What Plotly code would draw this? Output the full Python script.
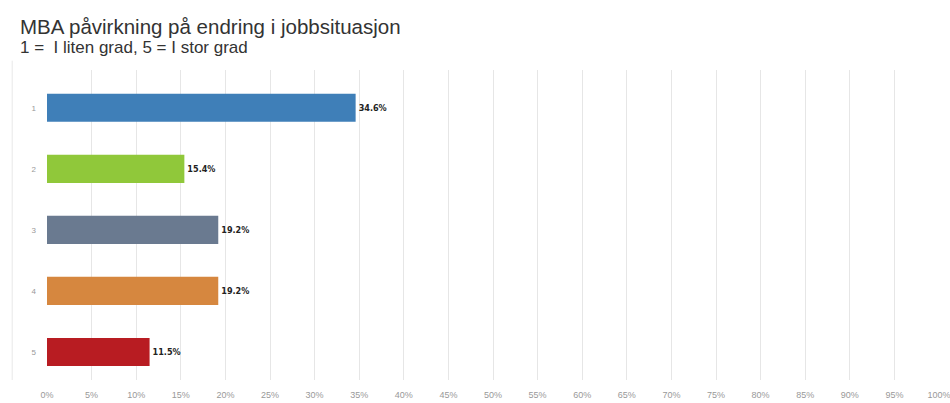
import plotly.graph_objects as go

categories = ["1", "2", "3", "4", "5"]
values = [34.6, 15.4, 19.2, 19.2, 11.5]
labels = ["34.6%", "15.4%", "19.2%", "19.2%", "11.5%"]
colors = ["#3f7fb8", "#90c83a", "#6a7a90", "#d6873f", "#b81c22"]
tick_vals = list(range(0, 101, 5))
tick_text = [f"{v}%" for v in tick_vals]

fig = go.Figure(go.Bar(
    x=values, y=categories, orientation="h",
    marker=dict(color=colors, line=dict(width=0)),
    width=0.46,
    text=[f"<b>{t}</b>" for t in labels], textposition="outside", cliponaxis=False,
    textfont=dict(family="DejaVu Sans Condensed", size=9, color="#222222"),
))

fig.update_layout(
    width=950, height=403,
    margin=dict(l=47, r=11, t=70, b=23, autoexpand=False),
    paper_bgcolor="white", plot_bgcolor="white",
    showlegend=False,
    font=dict(family="Liberation Sans"),
    annotations=[
        dict(text="MBA påvirkning på endring i jobbsituasjon", xref="paper", yref="paper",
             x=-0.033, y=1.0, yshift=44, xanchor="left", yanchor="middle", showarrow=False,
             font=dict(size=20.5, color="#333333")),
        dict(text="1 =  I liten grad, 5 = I stor grad", xref="paper", yref="paper",
             x=-0.033, y=1.0, yshift=23, xanchor="left", yanchor="middle", showarrow=False,
             font=dict(size=17, color="#333333")),
    ],
    shapes=[dict(type="line", xref="paper", yref="paper", x0=-0.039, x1=-0.039, y0=0, y1=1.03,
                 line=dict(color="#e8e8e8", width=1))],
)
fig.update_xaxes(range=[0, 100], tickvals=tick_vals, ticktext=tick_text, automargin=False,
                 showgrid=True, gridcolor="#e6e6e6", gridwidth=1, zeroline=False,
                 tickfont=dict(size=9, color="#999999"), ticks="", showline=False,
                 ticklabelstandoff=8, ticklabeloverflow="allow")
fig.update_yaxes(range=[4.46, -0.62], showgrid=False, zeroline=False, automargin=False,
                 tickfont=dict(size=8, color="#999999"), ticks="", ticklabelstandoff=10)

fig.write_html("out.html", config={"displayModeBar": False},
               post_script="document.body.style.margin='0';document.body.style.overflow='hidden';")
